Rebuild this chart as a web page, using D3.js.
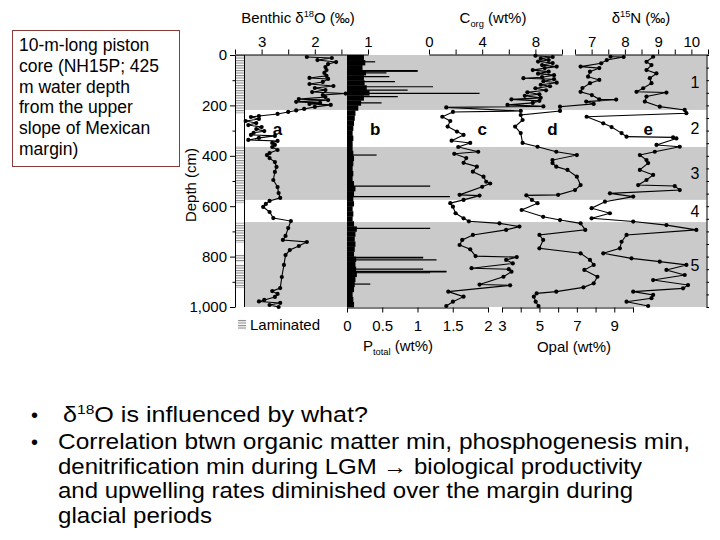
<!DOCTYPE html>
<html><head><meta charset="utf-8">
<script src="https://cdn.jsdelivr.net/npm/d3@7/dist/d3.min.js"></script>
<style>
body{margin:0;background:#fff}
svg{display:block}
text{font-family:"Liberation Sans",Arial,Helvetica,sans-serif;fill:#000}
</style>
</head><body>
<svg id="c" width="720" height="540"></svg>
<script>
// ---------------- DATA ----------------
const depthTicks = [0,100,200,300,400,500,600,700,800,900,1000];
const rightTicks = [0,50,100,150,200,250,300,350,400,450,500,550,600,650,700,750,800,850,900,950,1000];
const stages = [[0,218,"1"],[218,365,"2"],[365,575,"3"],[575,663,"4"],[663,1000,"5"]];
const laminated = [[0,232],[362,588],[665,745],[792,822],[832,925]];
const d18OTicks = [3.5,3,2.5,2,1.5,1];
const corgTicks = [0,2,4,6,8,10];
const d15NTicks = [6.5,7,7.5,8,8.5,9,9.5,10,10.5];
const pTicks = [0,0.5,1,1.5,2];
const opalTicks = [3,4,5,6,7,8,9,10];

// benthic d18O [depth cm, permil]
const d18O = [[8,2.15],[12,1.68],[20,1.95],[28,1.6],[36,1.75],[48,1.8],[60,1.78],[71,1.82],[83,1.78],[91,2.1],[95,1.75],[107,1.85],[115,2.1],[123,1.65],[131,2.0],[139,1.8],[147,2.05],[153,1.42],[159,1.85],[167,1.8],[175,2.3],[179,1.75],[186,2.35],[190,1.9],[194,2.1],[198,1.7],[206,2.0],[214,2.2],[220,2.35],[226,2.5],[234,2.7],[242,3.05],[246,3.2],[254,3.05],[262,3.3],[270,3.1],[278,3.25],[286,3.0],[294,3.1],[302,2.95],[309,3.15],[317,3.2],[321,2.75],[329,3.05],[337,3.25],[341,2.7],[349,2.8],[357,2.75],[365,2.8],[377,2.7],[389,2.85],[397,2.9],[409,2.85],[425,2.75],[444,2.72],[464,2.75],[496,2.78],[524,2.7],[548,2.68],[567,2.65],[579,2.85],[591,2.92],[603,2.97],[623,2.85],[647,2.78],[659,2.45],[687,2.5],[718,2.55],[734,2.6],[742,2.15],[758,2.3],[774,2.47],[794,2.55],[833,2.58],[881,2.62],[925,2.65],[937,2.8],[948,2.7],[960,2.75],[972,2.95],[978,3.05],[984,2.65],[992,2.85],[1000,2.68]];

// P total background profile, one value per 20 cm from 0 cm
const pBase = [0.24,0.26,0.22,0.27,0.24,0.25,0.28,0.32,0.24,0.2,0.16,0.12,0.11,0.1,0.09,0.08,0.09,0.08,0.08,0.09,0.1,0.09,0.08,0.09,0.08,0.1,0.12,0.1,0.09,0.1,0.08,0.09,0.08,0.1,0.14,0.12,0.11,0.12,0.11,0.1,0.13,0.12,0.13,0.14,0.12,0.11,0.1,0.08,0.09,0.1];
// P total spikes [depth cm, wt%]
const pSpikes = [[27,0.4],[62,1.0],[63,1.0],[64,1.0],[71,0.56],[86,0.6],[106,0.68],[126,1.22],[139,0.86],[152,1.88],[165,0.72],[190,0.49],[397,0.42],[520,1.18],[562,1.46],[688,1.18],[803,1.08],[805,1.08],[813,1.27],[850,1.08],[859,1.41],[861,1.41],[864,1.18],[909,0.33]];

// Corg [depth cm, wt%]
const corg = [[3,8.0],[8,9.3],[14,8.4],[20,9.0],[26,8.2],[32,9.3],[40,8.5],[46,9.6],[52,8.7],[60,7.8],[66,9.0],[74,8.2],[80,9.4],[88,8.5],[92,7.1],[96,9.4],[104,8.6],[110,9.6],[118,8.4],[124,9.1],[132,8.0],[140,8.8],[148,7.4],[156,8.3],[162,7.2],[170,8.4],[176,6.2],[182,8.3],[190,7.8],[198,5.9],[204,8.6],[208,1.3],[222,6.9],[226,1.8],[245,1.0],[262,1.6],[284,1.4],[304,2.1],[317,2.6],[340,1.7],[349,3.1],[365,2.2],[384,3.7],[392,1.9],[409,2.8],[428,2.6],[443,3.6],[463,3.3],[483,4.1],[503,4.3],[510,4.6],[523,4.0],[555,2.3],[558,3.8],[575,2.6],[588,1.6],[602,1.8],[628,2.0],[648,2.6],[660,3.0],[668,5.3],[681,6.8],[694,5.8],[714,3.3],[734,2.5],[754,2.3],[771,3.1],[798,3.5],[802,6.6],[813,5.8],[827,6.3],[846,3.2],[850,6.0],[860,6.2],[880,5.6],[911,3.8],[914,6.1],[939,1.45],[959,2.6],[979,1.8],[996,1.3]];

// Opal [depth cm, wt%]
const opal = [[7,8.8],[8,9.5],[20,8.6],[33,8.3],[46,7.2],[52,8.2],[66,7.7],[86,7.6],[99,8.2],[112,7.7],[131,7.3],[146,7.2],[159,7.8],[176,8.2],[177,9.1],[185,7.5],[194,7.9],[205,6.1],[222,6.1],[238,4.0],[258,4.1],[284,3.7],[310,4.0],[349,4.1],[364,4.9],[384,5.9],[397,7.0],[417,5.7],[429,5.7],[443,5.9],[456,6.5],[483,7.0],[516,7.2],[536,6.9],[555,6.0],[557,4.3],[575,4.6],[588,4.9],[615,4.05],[642,5.2],[655,6.1],[668,7.2],[694,7.45],[714,5.0],[734,5.2],[767,5.0],[787,7.2],[813,7.7],[833,7.9],[853,7.4],[880,8.1],[906,7.9],[922,7.35],[939,5.9],[946,4.85],[959,4.7],[979,4.8],[996,4.95]];

// d15N [depth cm, permil]
const d15N = [[7,8.85],[27,8.65],[40,8.8],[60,8.65],[73,8.95],[92,8.75],[112,8.8],[132,8.55],[146,8.35],[149,9.25],[165,8.65],[185,8.6],[205,9.05],[218,9.8],[231,9.85],[245,6.85],[271,7.35],[286,7.6],[310,7.9],[324,8.05],[327,9.45],[331,9.55],[357,8.95],[364,9.65],[384,8.9],[397,8.45],[417,8.65],[429,8.7],[456,8.45],[476,8.85],[496,8.65],[516,8.4],[520,9.5],[536,9.65],[549,7.55],[562,8.25],[582,7.4],[608,7.0],[628,7.55],[648,7.0],[661,8.25],[675,9.25],[694,10.15],[714,8.05],[741,7.9],[767,7.85],[787,7.35],[807,8.2],[820,9.05],[833,9.85],[853,9.25],[873,9.8],[893,8.85],[913,9.9],[926,9.75],[939,8.25],[952,8.85],[965,8.8],[979,8.05],[996,8.7]];

const boxLines = ["10-m-long piston","core (NH15P; 425","m water depth","from the upper","slope of Mexican","margin)"];
const bullet2 = ["Correlation btwn organic matter min, phosphogenesis min,","denitrification min during LGM \u2192 biological productivity","and upwelling rates diminished over the margin during","glacial periods"];
const bullet2Widths = [632,584,575,154];

// ---------------- DRAW ----------------
const svg = d3.select("#c");
const yS = d3.scaleLinear().domain([0,1000]).range([55,307]);
const xO = d3.scaleLinear().domain([3.5,1]).range([235,368]);
const xC = d3.scaleLinear().domain([0,10]).range([429,562]);
const xN = d3.scaleLinear().domain([6.5,10.5]).range([575,708]);
const xP = d3.scaleLinear().domain([0,2]).range([347,488]);
const xOp = d3.scaleLinear().domain([3,10]).range([502,633]);

const defs = svg.append("defs");
const pat = defs.append("pattern").attr("id","lam").attr("patternUnits","userSpaceOnUse")
  .attr("width",10).attr("height",2.5);
pat.append("rect").attr("width",10).attr("height",2.5).attr("fill","#fff");
pat.append("rect").attr("width",10).attr("height",1.1).attr("fill","#8a8a8a");

// gray bands
svg.append("g").selectAll("rect").data(stages.filter((s,i)=>i%2===0)).join("rect")
  .attr("x",244).attr("width",706.5-244)
  .attr("y",d=>yS(d[0])).attr("height",d=>yS(d[1])-yS(d[0]))
  .attr("fill","#cacaca");

// laminated column
svg.append("rect").attr("x",235).attr("y",yS(0)).attr("width",9).attr("height",yS(1000)-yS(0)).attr("fill","#fff");
svg.append("g").selectAll("rect").data(laminated).join("rect")
  .attr("x",235).attr("width",9).attr("y",d=>yS(d[0])).attr("height",d=>yS(d[1])-yS(d[0]))
  .attr("fill","url(#lam)");
svg.append("line").attr("x1",244.5).attr("x2",244.5).attr("y1",yS(0)).attr("y2",yS(1000)).attr("stroke","#000").attr("stroke-width",1);

// P total
svg.append("g").selectAll("rect").data(pBase).join("rect")
  .attr("x",xP(0)).attr("y",(d,i)=>yS(i*20)).attr("height",(d,i)=>yS(20)-yS(0)+0.3)
  .attr("width",d=>xP(d)-xP(0)).attr("fill","#000");
svg.append("g").selectAll("line").data(pSpikes).join("line")
  .attr("x1",xP(0)).attr("x2",d=>xP(d[1])).attr("y1",d=>yS(d[0])).attr("y2",d=>yS(d[0]))
  .attr("stroke","#000").attr("stroke-width",1.2);

// series
function series(data, xs){
  const g = svg.append("g");
  const line = d3.line().x(d=>xs(d[1])).y(d=>yS(d[0]));
  g.append("path").attr("d",line(data)).attr("fill","none").attr("stroke","#000").attr("stroke-width",1.1);
  g.selectAll("circle").data(data).join("circle").attr("cx",d=>xs(d[1])).attr("cy",d=>yS(d[0])).attr("r",2.1).attr("fill","#000");
}
series(d18O,xO); series(corg,xC); series(opal,xOp); series(d15N,xN);

// axes
function styleAxis(g){
  g.selectAll("path.domain").attr("stroke","#000").attr("stroke-width",1);
  g.selectAll(".tick line").attr("stroke","#000");
  g.selectAll("text").attr("font-size",15).attr("font-family","Liberation Sans, Arial, sans-serif").attr("fill","#000");
}
const lab = (vals) => d => vals.includes(d) ? d3.format(",")(d) : "";

const gl = svg.append("g").attr("transform","translate(235,0)")
  .call(d3.axisLeft(yS).tickValues(depthTicks).tickSize(5).tickSizeOuter(0).tickPadding(3).tickFormat(lab([0,200,400,600,800,1000])));
styleAxis(gl);
gl.selectAll(".tick").filter(d=>d%200!==0).select("line").attr("x2",-2.5);

const gr = svg.append("g").attr("transform","translate(706.5,0)")
  .call(d3.axisRight(yS).tickValues(rightTicks).tickSize(2.5).tickSizeOuter(0).tickFormat(""));
styleAxis(gr);

function topAxis(scale, ticks, labels){
  const g = svg.append("g").attr("transform","translate(0,54.5)")
   .call(d3.axisTop(scale).tickValues(ticks).tickSize(5).tickSizeOuter(0).tickPadding(2.5).tickFormat(lab(labels)));
  styleAxis(g);
}
topAxis(xO, d18OTicks, [3,2,1]);
topAxis(xC, corgTicks, [0,4,8]);
topAxis(xN, d15NTicks, [7,8,9,10]);

function botAxis(scale, ticks, labels, fmt){
  const g = svg.append("g").attr("transform","translate(0,307.5)")
   .call(d3.axisBottom(scale).tickValues(ticks).tickSize(5).tickSizeOuter(0).tickPadding(7.5).tickFormat(d=>labels.includes(d)?fmt(d):""));
  styleAxis(g);
}
botAxis(xP, pTicks, pTicks, d=>String(d));
botAxis(xOp, opalTicks, [3,5,7,9], d=>String(d));

// panel letters
const letters = [["a",xO(2.7)],["b",xP(0.4)],["c",xC(4.0)],["d",xOp(5.7)],["e",xN(8.7)]];
svg.append("g").selectAll("text").data(letters).join("text")
  .attr("x",d=>d[1]).attr("y",yS(300)+4).attr("text-anchor","middle")
  .attr("font-size",17).attr("font-weight","bold").text(d=>d[0]);

// stage numbers
svg.append("g").selectAll("text").data(stages).join("text")
  .attr("x",695).attr("y",d=>yS((d[0]+d[1])/2)+6).attr("text-anchor","middle")
  .attr("font-size",16).text(d=>d[2]);

// titles
function rich(x,y,parts,size,anchor){
  const t = svg.append("text").attr("x",x).attr("y",y).attr("font-size",size).attr("text-anchor",anchor||"middle");
  parts.forEach(p=>{
    const s = t.append("tspan").text(p[0]);
    if(p[1]==="sup"){ s.attr("font-size",size*0.62).attr("dy",-size*0.38); }
    if(p[1]==="sub"){ s.attr("font-size",size*0.62).attr("dy",size*0.25); }
    if(p[1]==="back"){ s.attr("dy",p[2]); }
  });
  return t;
}
rich(298,23,[["Benthic \u03b4"],["18","sup"],["O (\u2030)","back",15*0.38]],15);
rich(493,23,[["C"],["org","sub"],[" (wt%)","back",-15*0.25]],15);
rich(641,23,[["\u03b4"],["15","sup"],["N (\u2030)","back",15*0.38]],15);
rich(398,351,[["P"],["total","sub"],[" (wt%)","back",-15*0.25]],15);
svg.append("text").attr("x",574).attr("y",352).attr("text-anchor","middle").attr("font-size",15).text("Opal (wt%)");
svg.append("text").attr("transform","translate(196,185) rotate(-90)").attr("text-anchor","middle").attr("font-size",15).text("Depth (cm)");

// laminated legend
svg.append("rect").attr("x",238).attr("y",319).attr("width",8).attr("height",11).attr("fill","url(#lam)");
svg.append("text").attr("x",250).attr("y",330).attr("font-size",15).text("Laminated");

// left box
svg.append("rect").attr("x",12.5).attr("y",30.5).attr("width",167).attr("height",136).attr("fill","#fff").attr("stroke","#8b3a3a").attr("stroke-width",1);
svg.append("g").selectAll("text").data(boxLines).join("text")
  .attr("x",19).attr("y",(d,i)=>51+i*20.8).attr("font-size",17.5).text(d=>d);

// bullets
svg.append("text").attr("x",31).attr("y",422).attr("font-size",20).text("\u2022");
svg.append("text").attr("x",31).attr("y",449).attr("font-size",20).text("\u2022");
rich(63,422,[["\u03b4"],["18","sup"],["O is influenced by what?","back",22*0.38]],22,"start")
  .attr("textLength",305).attr("lengthAdjust","spacingAndGlyphs");
svg.append("g").selectAll("text").data(bullet2).join("text")
  .attr("x",58).attr("y",(d,i)=>449+i*24.5).attr("font-size",22)
  .attr("textLength",(d,i)=>bullet2Widths[i]).attr("lengthAdjust","spacingAndGlyphs")
  .text(d=>d);
</script>
</body></html>
